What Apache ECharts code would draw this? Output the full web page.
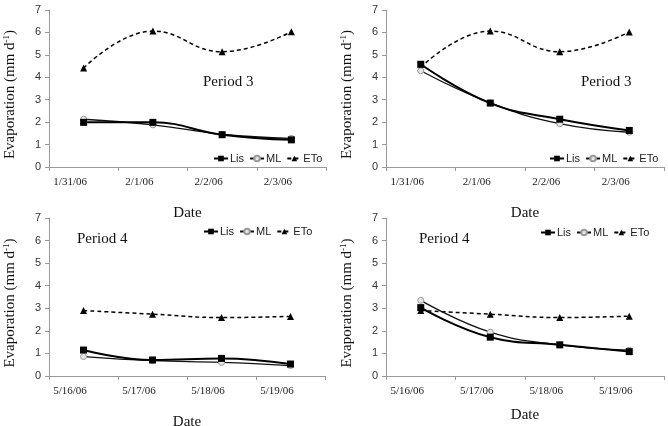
<!DOCTYPE html>
<html>
<head>
<meta charset="utf-8">
<script src="https://cdn.jsdelivr.net/npm/echarts@6/dist/echarts.min.js"></script>
<style>
  html, body { margin: 0; padding: 0; background: #fff; }
  #chart { width: 668px; height: 426px; }
</style>
</head>
<body>
<div id="chart"></div>
<script>
// dates for each period
const datesP3 = ['1/31/06', '2/1/06', '2/2/06', '2/3/06'];
const datesP4 = ['5/16/06', '5/17/06', '5/18/06', '5/19/06'];
const yTicks = [0, 1, 2, 3, 4, 5, 6, 7];

// top left panel (period 3)
const lisA = [1.99, 1.99, 1.44, 1.21];
const mlA = [2.13, 1.88, 1.46, 1.28];
const etoA = [4.41, 6.06, 5.14, 6.03];

// top right panel (period 3)
const lisB = [4.58, 2.85, 2.13, 1.63];
const mlB = [4.29, 2.86, 1.93, 1.55];
const etoB = [4.44, 6.06, 5.14, 6.02];

// bottom left panel (period 4)
const lisC = [1.15, 0.71, 0.78, 0.53];
const mlC = [0.86, 0.68, 0.60, 0.46];
const etoC = [2.90, 2.74, 2.59, 2.64];

// bottom right panel (period 4)
const lisD = [3.03, 1.72, 1.38, 1.08];
const mlD = [3.35, 1.94, 1.38, 1.14];
const etoD = [2.90, 2.74, 2.59, 2.65];

const serif = 'Liberation Serif';
const sans = 'Liberation Sans';

const chart = echarts.init(document.getElementById('chart'));

const grids = [
  {left: 49, top: 10, width: 277, height: 157},
  {left: 386, top: 10, width: 278, height: 157},
  {left: 49, top: 218, width: 276, height: 158},
  {left: 386, top: 218, width: 278, height: 158}
].map(g => Object.assign(g, {containLabel: false, outerBoundsMode: 'none'}));

const panelDates = [datesP3, datesP3, datesP4, datesP4];
const panelData = [
  [lisA, mlA, etoA],
  [lisB, mlB, etoB],
  [lisC, mlC, etoC],
  [lisD, mlD, etoD]
];
const dateGaps = [39, 39, 39, 32];

const xAxes = grids.map((g, i) => ({
  type: 'category',
  gridIndex: i,
  data: panelDates[i],
  boundaryGap: true,
  name: 'Date',
  nameLocation: 'middle',
  nameGap: dateGaps[i],
  nameTextStyle: {fontFamily: serif, fontSize: 15, color: '#111'},
  axisLine: {lineStyle: {color: '#999', width: 1}},
  axisTick: {show: true, length: 4, lineStyle: {color: '#999'}},
  axisLabel: {
    fontFamily: serif, fontSize: 11, color: '#222', margin: 10,
    padding: [0, 27, 0, 0]
  },
  splitLine: {show: false}
}));

const yAxes = grids.map((g, i) => ({
  type: 'value',
  gridIndex: i,
  min: yTicks[0],
  max: yTicks[yTicks.length - 1],
  interval: 1,
  name: 'Evaporation (mm d{sup|-1})',
  nameLocation: 'middle',
  nameGap: 30,
  nameRotate: 90,
  nameTextStyle: {
    fontFamily: serif, fontSize: 15, color: '#111',
    padding: [0, 12, 0, 0],
    rich: {sup: {fontFamily: serif, fontSize: 9, color: '#111', verticalAlign: 'top', padding: [0, 0, 8, 0]}}
  },
  axisLine: {show: true, lineStyle: {color: '#999', width: 1}},
  axisTick: {show: true, length: 4, lineStyle: {color: '#999'}},
  axisLabel: {fontFamily: sans, fontSize: 11, color: '#333', margin: 8},
  splitLine: {show: false}
}));

const series = [];
panelData.forEach((d, i) => {
  series.push({
    name: 'Lis', type: 'line', xAxisIndex: i, yAxisIndex: i,
    data: d[0], smooth: 0.45,
    symbol: 'rect', symbolSize: 7,
    lineStyle: {color: '#000', width: 2},
    itemStyle: {color: '#000'},
    z: 4
  });
  series.push({
    name: 'ML', type: 'line', xAxisIndex: i, yAxisIndex: i,
    data: d[1], smooth: 0.45,
    symbol: 'circle', symbolSize: 6,
    lineStyle: {color: '#111', width: 1.3},
    itemStyle: {color: '#e6e6e6', borderColor: '#9a9a9a', borderWidth: 1},
    z: 3
  });
  series.push({
    name: 'ETo', type: 'line', xAxisIndex: i, yAxisIndex: i,
    data: d[2], smooth: 0.45,
    symbol: 'triangle', symbolSize: 7,
    lineStyle: {color: '#000', width: 1.5, type: [4, 3]},
    itemStyle: {color: '#000'},
    z: 2
  });
});

const legendPos = [
  {left: 213, top: 153},
  {left: 549, top: 153},
  {left: 203, top: 226},
  {left: 540, top: 227}
];

const legends = legendPos.map(p => ({
  data: ['Lis', 'ML', 'ETo'],
  left: p.left,
  top: p.top,
  width: 200,
  orient: 'horizontal',
  itemWidth: 14,
  itemHeight: 7,
  itemGap: 5,
  padding: 0,
  textStyle: {fontFamily: sans, fontSize: 11, color: '#222', padding: [0, 0, 0, -3]},
  selectedMode: false
}));

const periodLabels = [
  {x: 203, y: 75, text: 'Period 3'},
  {x: 581, y: 75, text: 'Period 3'},
  {x: 77, y: 232, text: 'Period 4'},
  {x: 419, y: 232, text: 'Period 4'}
];

chart.setOption({
  animation: false,
  backgroundColor: '#fff',
  grid: grids,
  xAxis: xAxes,
  yAxis: yAxes,
  legend: legends,
  series: series,
  graphic: periodLabels.map(p => ({
    type: 'text',
    left: p.x,
    top: p.y,
    style: {text: p.text, fontFamily: serif, fontSize: 15, fill: '#111'}
  }))
});
</script>
</body>
</html>
